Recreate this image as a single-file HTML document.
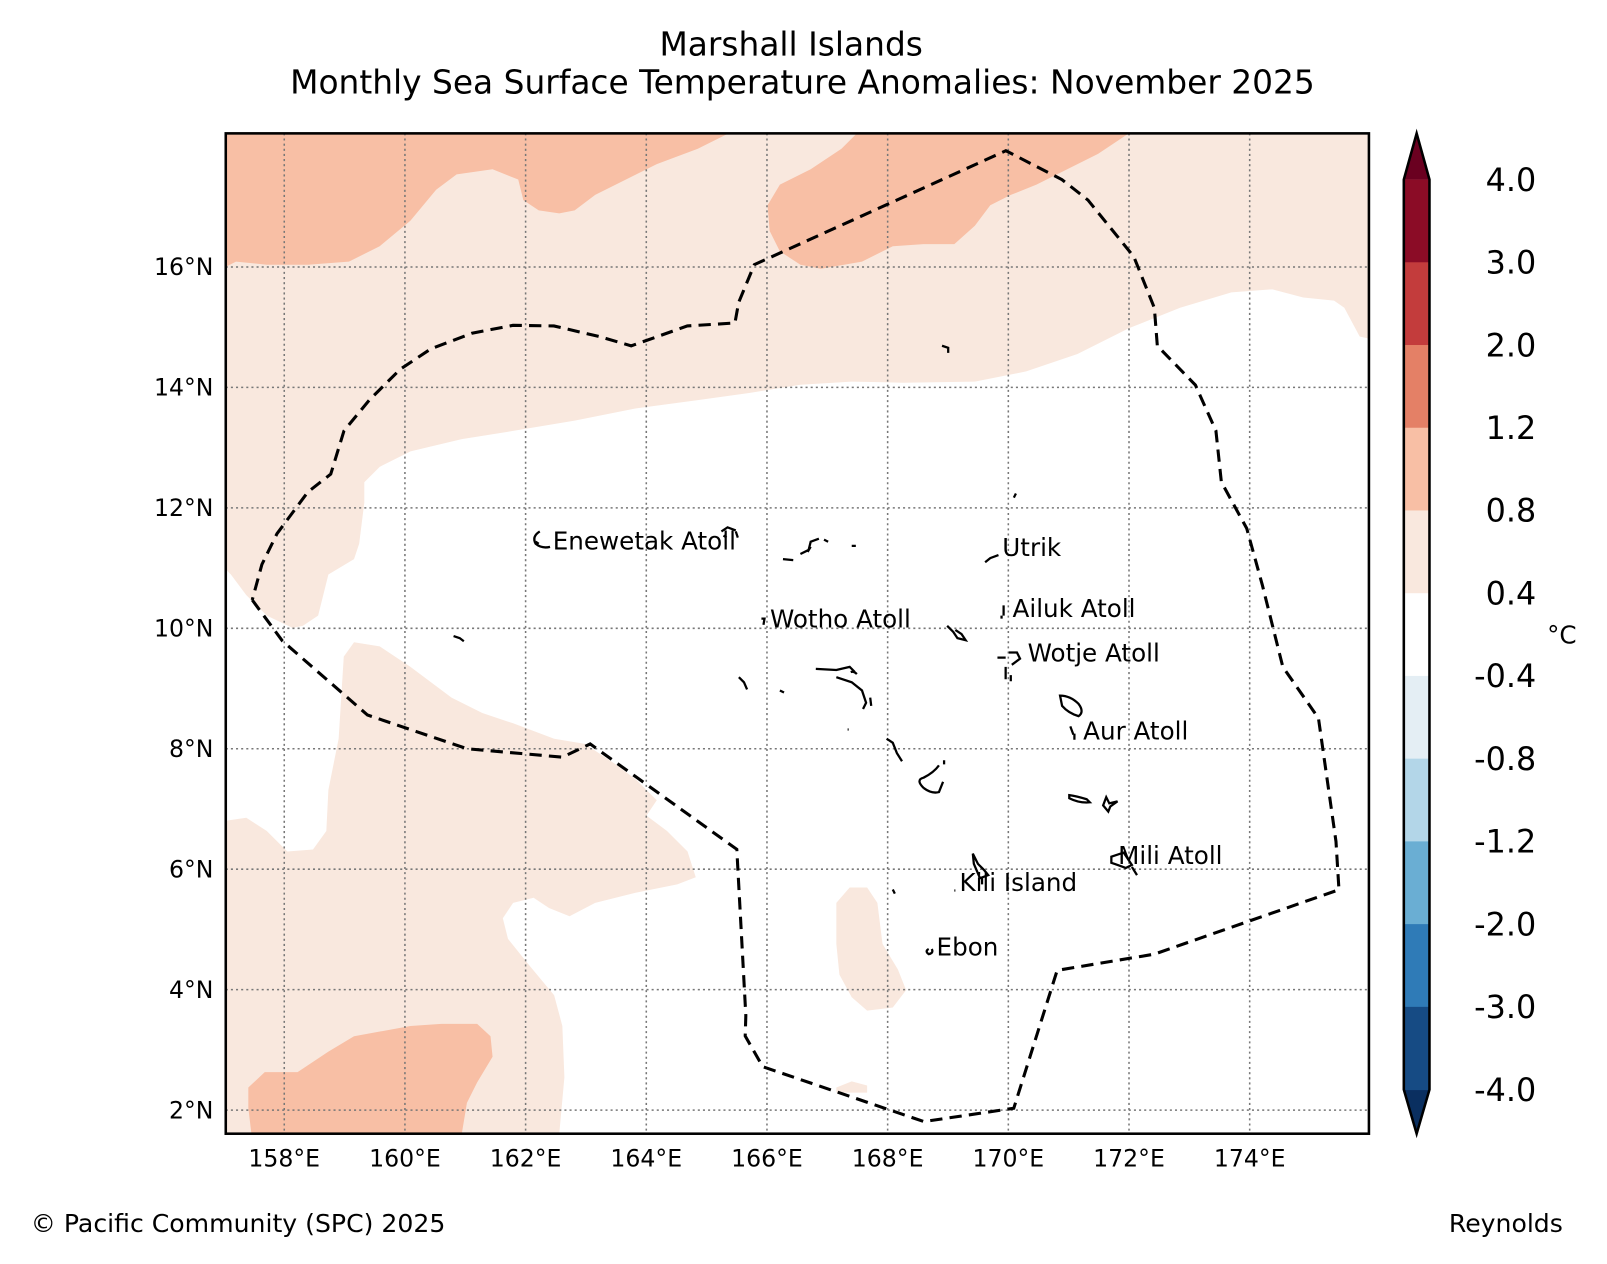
<!DOCTYPE html>
<html><head><meta charset="utf-8"><style>
html,body{margin:0;padding:0;background:#fff;}
svg{display:block;font-family:"DejaVu Sans","Liberation Sans",sans-serif;}
</style></head><body>
<svg id="chart" width="1607" height="1264" viewBox="0 0 1566 1232" preserveAspectRatio="none" xmlns="http://www.w3.org/2000/svg">
<rect x="0" y="0" width="1566" height="1232" fill="#fff"/>
<text x="771" y="54" font-size="32" text-anchor="middle">Marshall Islands</text>
<text x="782" y="91" font-size="32" text-anchor="middle">Monthly Sea Surface Temperature Anomalies: November 2025</text>
<defs><clipPath id="mapclip"><rect x="220" y="130" width="1114" height="975"/></clipPath></defs>
<g id="map" clip-path="url(#mapclip)">
  <path fill="#f9e8de" d="M220,130 L1334,130 L1334,330 L1325,328 L1310,300 L1300,293 L1270,290 L1240,282 L1200,285 L1150,300 L1100,320 L1050,345 L1000,362 L950,372 L880,373 L830,372 L780,375 L730,383 L680,390 L620,398 L560,410 L500,420 L450,428 L400,440 L370,455 L355,470 L355,490 L350,530 L345,545 L320,560 L315,580 L310,600 L295,610 L285,612 L260,600 L240,580 L225,560 L220,555 Z"/>
  <path fill="#f8bfa5" d="M220,130 L710,130 L680,145 L640,160 L600,180 L580,190 L560,205 L545,208 L525,205 L510,195 L505,175 L480,165 L445,170 L425,185 L400,215 L370,240 L340,255 L300,258 L260,258 L230,255 L220,260 Z"/>
  <path fill="#f8bfa5" d="M835,130 L1100,130 L1070,150 L1040,165 L1010,180 L985,190 L965,200 L950,220 L930,238 L900,238 L870,240 L840,255 L800,262 L780,258 L760,245 L750,225 L748,200 L760,180 L790,165 L820,145 Z"/>
  <path fill="#f9e8de" d="M220,800 L240,797 L260,810 L280,830 L305,828 L318,810 L320,770 L330,720 L335,640 L345,626 L370,630 L400,650 L440,680 L470,695 L500,705 L540,720 L570,725 L600,745 L620,760 L640,780 L630,795 L650,810 L670,830 L678,855 L660,862 L620,870 L580,880 L555,893 L535,885 L520,875 L500,880 L490,895 L495,915 L515,940 L540,970 L548,1000 L550,1050 L545,1105 L220,1105 Z"/>
  <path fill="#f8bfa5" d="M245,1105 L242,1080 L242,1060 L258,1045 L290,1045 L320,1025 L345,1010 L400,1000 L430,998 L465,998 L478,1010 L480,1030 L465,1055 L455,1075 L450,1105 Z"/>
  <path fill="#f9e8de" d="M815,880 L828,865 L845,865 L855,880 L860,920 L875,945 L883,965 L870,982 L845,985 L830,972 L818,950 L815,920 Z"/>
  <path fill="#f9e8de" d="M815,1060 L830,1054 L845,1058 L845,1065 L815,1065 Z"/>
  <g id="grid"></g>
  <g id="islands" fill="none" stroke="#000" stroke-width="2.2">
    <path d="M526,518 q-8,5 -4,12 q6,5 14,3 M522,528 l3,2"/>
    <path d="M703,518 l6,-4 l8,3 M717,518 l2,6 M705,522 l3,2"/>
    <path d="M763,545 l10,1 M780,540 l8,-4 l2,-8 l8,-3 M790,533 l-3,5 M803,526 l4,2 M830,532 l4,0"/>
    <path d="M918,337 l6,2 l0,5"/>
    <path d="M960,548 l5,-4 l8,-3"/>
    <path d="M742,603 l3,0 l-1,6"/>
    <path d="M978,590 l0,10 M976,600 l0,3"/>
    <path d="M923,610 l6,6 l4,6 l8,2 l-4,-6 l-6,-4"/>
    <path d="M972,641 l8,0 M983,636 l8,0 l3,6 l-8,6 M980,650 l0,12 M985,658 l0,6"/>
    <path d="M795,652 l20,1 l13,-3 l5,5 M835,657 q-3,-3 -6,-2 M815,660 l15,5 l10,8 l4,12 l-3,6 M848,680 l1,8"/>
    <path d="M720,660 l5,5 l3,7 M760,673 l4,2"/>
    <path d="M1033,678 q10,0 18,8 q6,8 0,12 q-10,-3 -16,-10 Z M1043,708 l3,8 M1047,715 l0,6"/>
    <path d="M864,720 l6,4 l4,10 l5,8"/>
    <path d="M900,768 q-8,-8 0,-10 q10,-5 15,-12 M900,768 q8,6 15,4 l4,-10 M920,745 l0,-4"/>
    <path d="M1042,778 q10,5 20,4 l-3,-3 q-10,-3 -17,-4 Z M1075,785 l3,-8 l3,6 l8,-2 l-7,5 l-2,5 Z"/>
    <path d="M948,832 l5,10 l6,6 l4,5 l-8,3 l-6,-14 Z M957,856 l0,6"/>
    <path d="M1083,835 l12,-4 l8,12 l-6,3 q-8,-3 -14,-5 Z M1103,845 l5,8"/>
    <path d="M870,867 l2,4 M930,868 l1,0"/>
    <path d="M905,925 q-4,2 0,5 q5,-1 3,-5"/>
    <path d="M826,711 l1,0 M988,485 l2,-4 M442,620 l6,2 l4,3"/>
  </g>
  <path id="eez" fill="none" stroke="#000" stroke-width="3" stroke-dasharray="12,7"/>
  <g id="labels" font-size="24"></g>
</g>
<rect x="220" y="130" width="1114" height="975" fill="none" stroke="#000" stroke-width="2.5"/>
<g id="xticks" font-size="23" text-anchor="middle"></g>
<g id="yticks" font-size="23" text-anchor="end"></g>
<g id="cbar"></g>
<text x="1522" y="627" font-size="24" text-anchor="middle">°C</text>
<text x="30" y="1201" font-size="24.5">© Pacific Community (SPC) 2025</text>
<text x="1523" y="1201" font-size="24.5" text-anchor="end">Reynolds</text>
</svg>
<script>
const lonTicks = [158,160,162,164,166,168,170,172,174];
const latTicks = [2,4,6,8,10,12,14,16];
const eezLon = [157.47,157.97,159.38,161.03,162.61,163.07,165.50,165.65,165.64,165.93,168.60,170.09,170.81,172.42,175.48,175.43,175.14,174.55,174.21,173.95,173.53,173.44,173.10,172.47,172.42,172.08,171.32,170.89,169.96,165.79,165.53,165.47,164.68,163.75,163.24,162.47,161.79,161.11,160.43,159.92,159.41,158.99,158.77,158.39,157.88,157.63,157.47];
const eezLat = [10.47,9.79,8.56,8.00,7.86,8.08,6.33,3.57,3.23,2.72,1.81,2.03,4.32,4.59,5.66,6.46,8.51,9.36,10.72,11.66,12.43,13.28,14.04,14.69,15.32,16.17,17.11,17.45,17.93,16.04,15.41,15.07,15.02,14.69,14.84,15.02,15.03,14.90,14.64,14.30,13.79,13.28,12.56,12.26,11.57,11.06,10.47];
const placeNames = ["Enewetak Atoll","Wotho Atoll","Utrik","Ailuk Atoll","Wotje Atoll","Aur Atoll","Mili Atoll","Kili Island","Ebon"];
const placeLon = [162.45,166.05,169.90,170.07,170.32,171.24,171.82,169.19,168.81];
const placeLat = [11.31,10.01,11.20,10.19,9.45,8.15,6.09,5.64,4.57];
const cbLevels = ["4.0","3.0","2.0","1.2","0.8","0.4","-0.4","-0.8","-1.2","-2.0","-3.0","-4.0"];
const cbColors = ["#8b0c26","#c33c3c","#e48066","#f8bfa5","#f9e8de","#ffffff","#e4eef4","#b3d6e8","#6aaed3","#2f7bb7","#164b84"];

const NS="http://www.w3.org/2000/svg";
function X(lon){return 277+(lon-158)*58.8;}
function Y(lat){return 1082-(lat-2)*58.7;}
function mk(tag,attrs,parent){const e=document.createElementNS(NS,tag);for(const k in attrs)e.setAttribute(k,attrs[k]);parent.appendChild(e);return e;}

const grid=document.getElementById('grid');
lonTicks.forEach(v=>{const l=mk('line',{x1:X(v),x2:X(v),y1:130,y2:1105,stroke:'#777','stroke-width':1.5,'stroke-dasharray':'2,3'},grid);

});
latTicks.forEach(v=>{const l=mk('line',{x1:220,x2:1334,y1:Y(v),y2:Y(v),stroke:'#777','stroke-width':1.5,'stroke-dasharray':'2,3'},grid);

});

document.getElementById('eez').setAttribute('d',eezLon.map((v,i)=>(i?'L':'M')+X(v).toFixed(1)+','+Y(eezLat[i]).toFixed(1)).join(' '));

const lab=document.getElementById('labels');
placeNames.forEach((n,i)=>{const t=mk('text',{x:X(placeLon[i]),y:Y(placeLat[i])},lab);t.textContent=n;

});

const xt=document.getElementById('xticks');
lonTicks.forEach(v=>{const t=mk('text',{x:X(v),y:1137},xt);t.textContent=v+'°E';

});
const yt=document.getElementById('yticks');
latTicks.forEach(v=>{const t=mk('text',{x:208,y:Y(v)+8},yt);t.textContent=v+'°N';

});

const cb=document.getElementById('cbar');
const cbx=1368,cbw=25,cbTop=175,cbBot=1062,nBands=cbColors.length,bh=(cbBot-cbTop)/nBands;
const up=mk('path',{d:`M${cbx},${cbTop} L${cbx+cbw/2},130 L${cbx+cbw},${cbTop} Z`,fill:'#6a0020'},cb);


const dn=mk('path',{d:`M${cbx},${cbBot} L${cbx+cbw/2},1105 L${cbx+cbw},${cbBot} Z`,fill:'#0a2f60'},cb);


cbColors.forEach((c,i)=>{const r=mk('rect',{x:cbx,y:cbTop+i*bh,width:cbw,height:bh+0.5,fill:c},cb);

});
const outl=mk('path',{d:`M${cbx},${cbTop} L${cbx+cbw/2},130 L${cbx+cbw},${cbTop} L${cbx+cbw},${cbBot} L${cbx+cbw/2},1105 L${cbx},${cbBot} Z`,fill:'none',stroke:'#000','stroke-width':2.5},cb);


cbLevels.forEach((s,i)=>{const t=mk('text',{x:1497,y:cbTop+i*bh+11,'font-size':31,'text-anchor':'end'},cb);t.textContent=s;

});
</script>
</body></html>
